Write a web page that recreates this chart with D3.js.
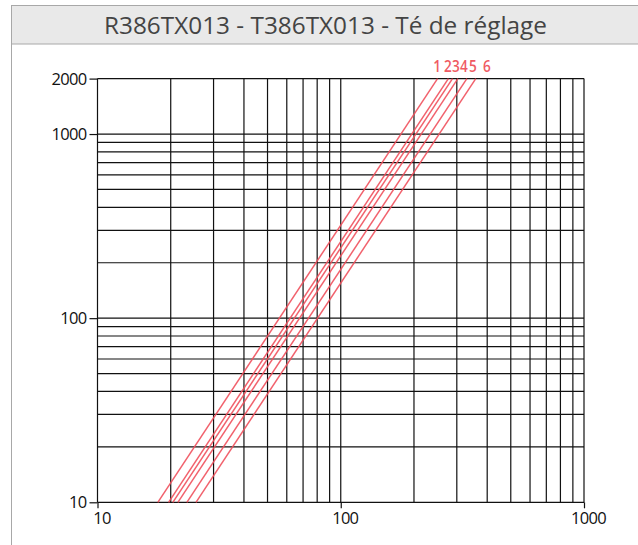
<!DOCTYPE html>
<html>
<head>
<meta charset="utf-8">
<script src="https://cdn.jsdelivr.net/npm/d3@7"></script>
<style>
  html, body { margin: 0; padding: 0; background: #fff; }
  svg { display: block; }
</style>
</head>
<body>
<script>
// ---- data ----
const titleText = "R386TX013 - T386TX013 - Té de réglage";
const curveLabels = ["1", "2", "3", "4", "5", "6"];
// flow (x) where each curve crosses Δp = 10 and Δp = 2000
const flowAtLow  = [17.7, 19.6, 20.4, 21.4, 23.3, 25.4];
const flowAtHigh = [250, 277, 288, 303, 330, 359];
const pressureLow = 10;
const pressureHigh = 2000;
const xTickValues = [10, 100, 1000];
const yTickValues = [10, 100, 1000, 2000];
const xGridValues = [10,20,30,40,50,60,70,80,90,100,200,300,400,500,600,700,800,900,1000];
const yGridValues = [10,20,30,40,50,60,70,80,90,100,200,300,400,500,600,700,800,900,1000,2000];

// ---- layout ----
const W = 638, H = 545;
const svg = d3.select("body").append("svg").attr("width", W).attr("height", H);

// panel + title box
svg.append("rect").attr("x", 11.5).attr("y", 5.5).attr("width", 700).attr("height", 600)
  .attr("fill", "#fff").attr("stroke", "#a8a8a8").attr("stroke-width", 1);
svg.append("rect").attr("x", 11.5).attr("y", 5.5).attr("width", 700).attr("height", 38.5)
  .attr("fill", "#e9e9e9").attr("stroke", "#a8a8a8").attr("stroke-width", 1);
svg.append("text").attr("x", 325.5).attr("y", 33.5)
  .attr("text-anchor", "middle")
  .attr("font-family", "'Open Sans', sans-serif").attr("font-size", 23)
  .attr("textLength", 443).attr("lengthAdjust", "spacingAndGlyphs")
  .attr("fill", "#444").text(titleText);

const x = d3.scaleLog().domain([10, 1000]).range([97.5, 584]);
const y = d3.scaleLog().domain([10, 2000]).range([502.3, 78.6]);

const g = svg.append("g");
const gridColor = "#111";

g.selectAll("line.vg").data(xGridValues).join("line").attr("class", "vg")
  .attr("x1", d => x(d)).attr("x2", d => x(d))
  .attr("y1", y(pressureHigh)).attr("y2", y(pressureLow))
  .attr("stroke", gridColor).attr("stroke-width", 1.2);
g.selectAll("line.hg").data(yGridValues).join("line").attr("class", "hg")
  .attr("x1", x(10)).attr("x2", x(1000))
  .attr("y1", d => y(d)).attr("y2", d => y(d))
  .attr("stroke", gridColor).attr("stroke-width", 1.2);

// axes
const xAxis = d3.axisBottom(x).tickValues(xTickValues).tickFormat(d3.format("d")).tickSizeOuter(0).tickSize(6).tickPadding(4);
const yAxis = d3.axisLeft(y).tickValues(yTickValues).tickFormat(d3.format("d")).tickSizeOuter(0).tickSize(8).tickPadding(3);
const gx = svg.append("g").attr("transform", `translate(0,${y(pressureLow)})`).call(xAxis);
const gy = svg.append("g").attr("transform", `translate(${x(10)},0)`).call(yAxis);
[gx, gy].forEach(a => {
  a.select(".domain").remove();
  a.selectAll(".tick line").attr("stroke", gridColor).attr("stroke-width", 1.2);
  a.selectAll(".tick text").attr("font-family", "'Open Sans', sans-serif")
    .attr("font-size", 16.5).attr("fill", "#111").attr("letter-spacing", -0.7);
});
gx.selectAll(".tick text").attr("dx", 4);
gy.selectAll(".tick text").attr("dy", "0.34em");

// curves
const curves = flowAtLow.map((q, i) => [[q, pressureLow], [flowAtHigh[i], pressureHigh]]);
const line = d3.line().x(d => x(d[0])).y(d => y(d[1]));
svg.append("g").selectAll("path").data(curves).join("path")
  .attr("d", line).attr("fill", "none")
  .attr("stroke", "#f0505c").attr("stroke-width", 1.5).attr("stroke-opacity", 0.9);

// curve labels (horizontally condensed so neighbours do not collide)
const labelDx = [-0.5, -0.4, 3.5, 6.1, 6.1, 11.2];
svg.append("g").selectAll("text").data(curveLabels).join("text")
  .attr("transform", (d, i) => `translate(${x(flowAtHigh[i]) + labelDx[i]},72) scale(0.8,1)`)
  .attr("text-anchor", "middle")
  .attr("font-family", "'Open Sans', sans-serif").attr("font-size", 17).attr("font-weight", 600)
  .attr("fill", "#ef5b63").text(d => d);
</script>
</body>
</html>
